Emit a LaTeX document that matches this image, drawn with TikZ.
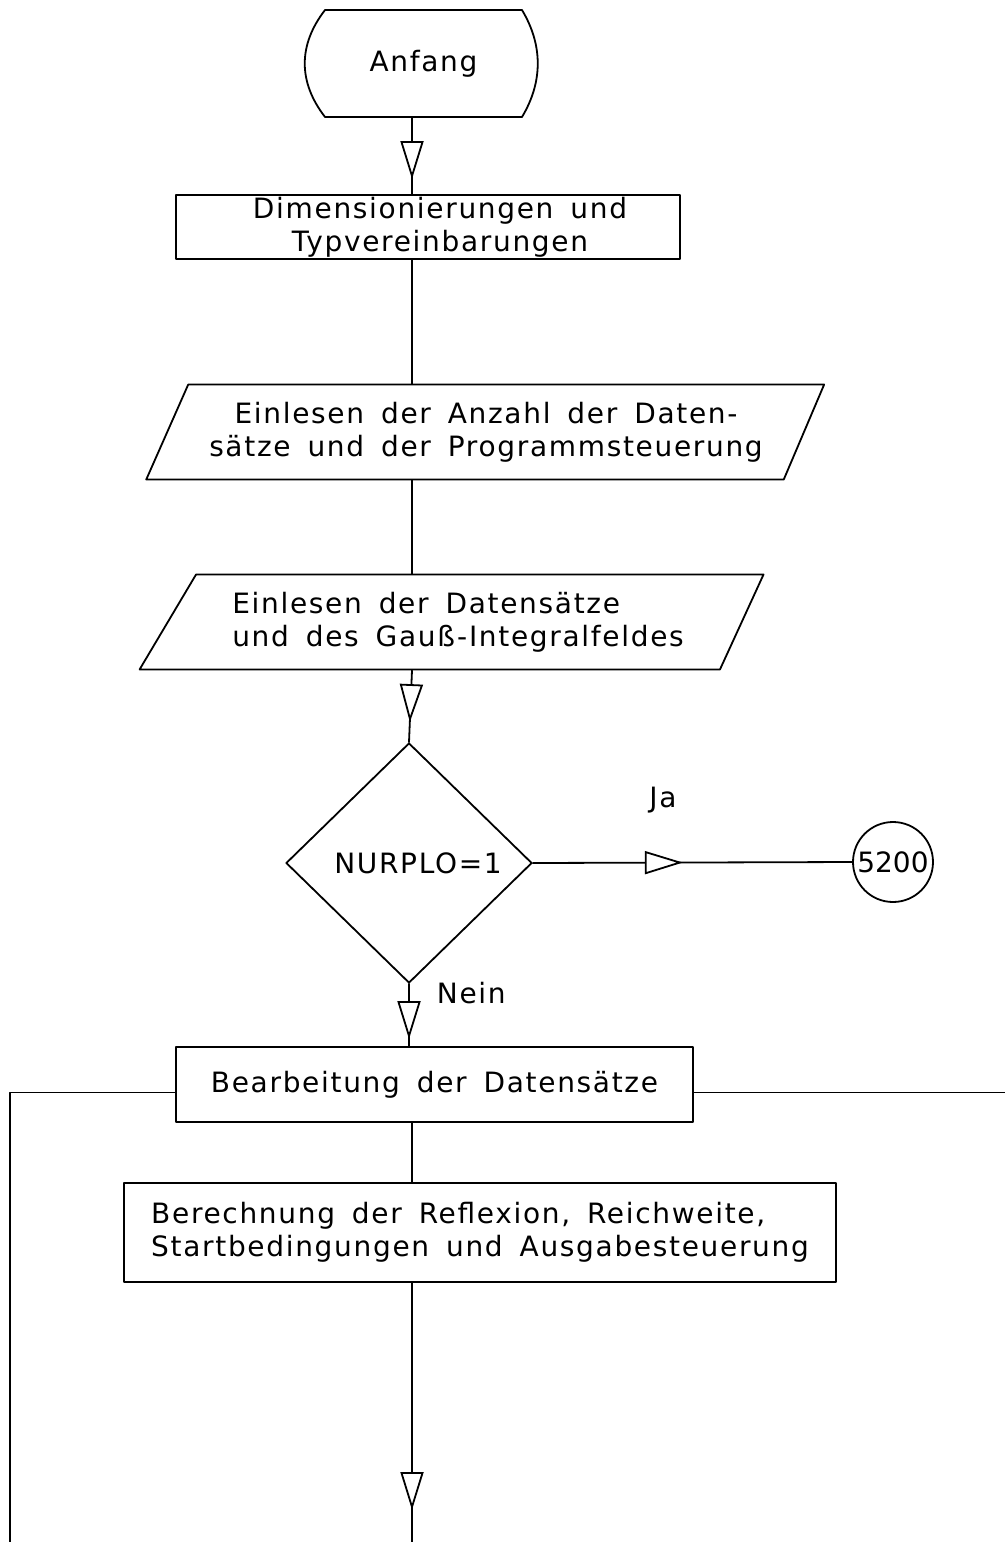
\documentclass[tikz,border=0pt]{standalone}
\usepackage{fontspec}
\setmainfont[LetterSpace=6,WordSpace=1.6]{DejaVu Sans}
\usetikzlibrary{shapes.geometric,arrows.meta,decorations.markings}
\begin{document}
\begin{tikzpicture}[line join = round, line cap=round, x=0.5pt, y=-0.5pt,
	font=\fontsize{14}{16.5}\selectfont, line width=0.9pt,
	box/.style={draw, rectangle, inner sep=0pt},
	eingabe/.style={draw, trapezium, trapezium stretches=true, inner sep=0pt},
	flow/.style={postaction={decorate}, decoration={markings,
		mark=at position #1 with {\arrow{Triangle[fill=white,length=19pt,width=11.5pt]}}}}]
	\useasboundingbox (0,0) rectangle (1005,1542);
	\coordinate (axis) at (412,0);
	% === Anfang ===
	\node[minimum width=98.5pt, minimum height=53.5pt, inner sep=0pt, outer sep=0pt] (anfang) at (423.5,63.5) {Anfang};
	\draw (anfang.north west) .. controls +(-27,35) and +(-27,-35) .. (anfang.south west) -- (anfang.south east)
		.. controls +(21,-35) and +(21,35) .. (anfang.north east) -- cycle;
	% === Kästen ===
	\node[box, minimum width=252pt, minimum height=32pt, align=center] (dimen) at (428,227)
		{\hspace*{12pt}Dimensionierungen und\\ \hspace*{12pt}Typvereinbarungen};
	\node[eingabe, minimum width=339pt, minimum height=47.5pt, trapezium left angle=57, trapezium right angle=122, align=center] (anzahl) at (486,432)
		{Einlesen der Anzahl der Daten-\\sätze und der Programmsteuerung};
	\node[eingabe, minimum width=313pt, minimum height=47.5pt, trapezium left angle=51, trapezium right angle=122, align=left] (daten) at (458,622)
		{Einlesen der Datensätze\\und des Gauß-Integralfeldes};
	\node[draw, diamond, minimum width=123pt, minimum height=120pt, inner sep=0pt] (nurplo) at (409,863) {\hspace*{9pt}NURPLO=1};
	\node[draw, circle, minimum size=40pt, inner sep=0pt, font=\fontsize{14}{16.5}\fontspec{DejaVu Sans}] (c5200) at (893,862) {5200};
	\node[box, minimum width=258.5pt, minimum height=37.5pt] (bearb) at (434.5,1084.5) {Bearbeitung der Datensätze};
	\node[box, minimum width=356pt, minimum height=49.5pt, align=left] (berech) at (480,1232.5)
		{Berechnung der Reflexion, Reichweite,\\Startbedingungen und Ausgabesteuerung};
	% === Beschriftungen ===
	\node (ja) at (663,800) {Ja};
	\node[anchor=west, inner sep=0pt] (nein) at (436,993) {Nein};
	% === Verbindungen ===
	\coordinate (ende) at (412,1542);
	\coordinate (linksunten) at (10,1542);
	\coordinate (rechts) at (1005,0);
	\draw[flow=-7.5pt] (anfang.south -| axis) -- (dimen.north -| axis);
	\draw (dimen.south -| axis) -- (anzahl.north -| axis);
	\draw (anzahl.south -| axis) -- (daten.north -| axis);
	\draw[flow=-10pt] (daten.south -| axis) -- (nurplo.north);
	\draw[flow=75pt] (nurplo.east) -- (c5200.west);
	\draw[flow=-3.5pt] (nurplo.south) -- (bearb.north -| nurplo.south);
	\draw (bearb.south -| axis) -- (berech.north -| axis);
	\draw[flow=-16pt] (berech.south -| axis) -- (ende);
	\draw ([yshift=-4pt]bearb.west) -| (linksunten);
	\draw ([yshift=-4pt]bearb.east) -- ([yshift=-4pt]bearb.east -| rechts);
\end{tikzpicture}
\end{document}
